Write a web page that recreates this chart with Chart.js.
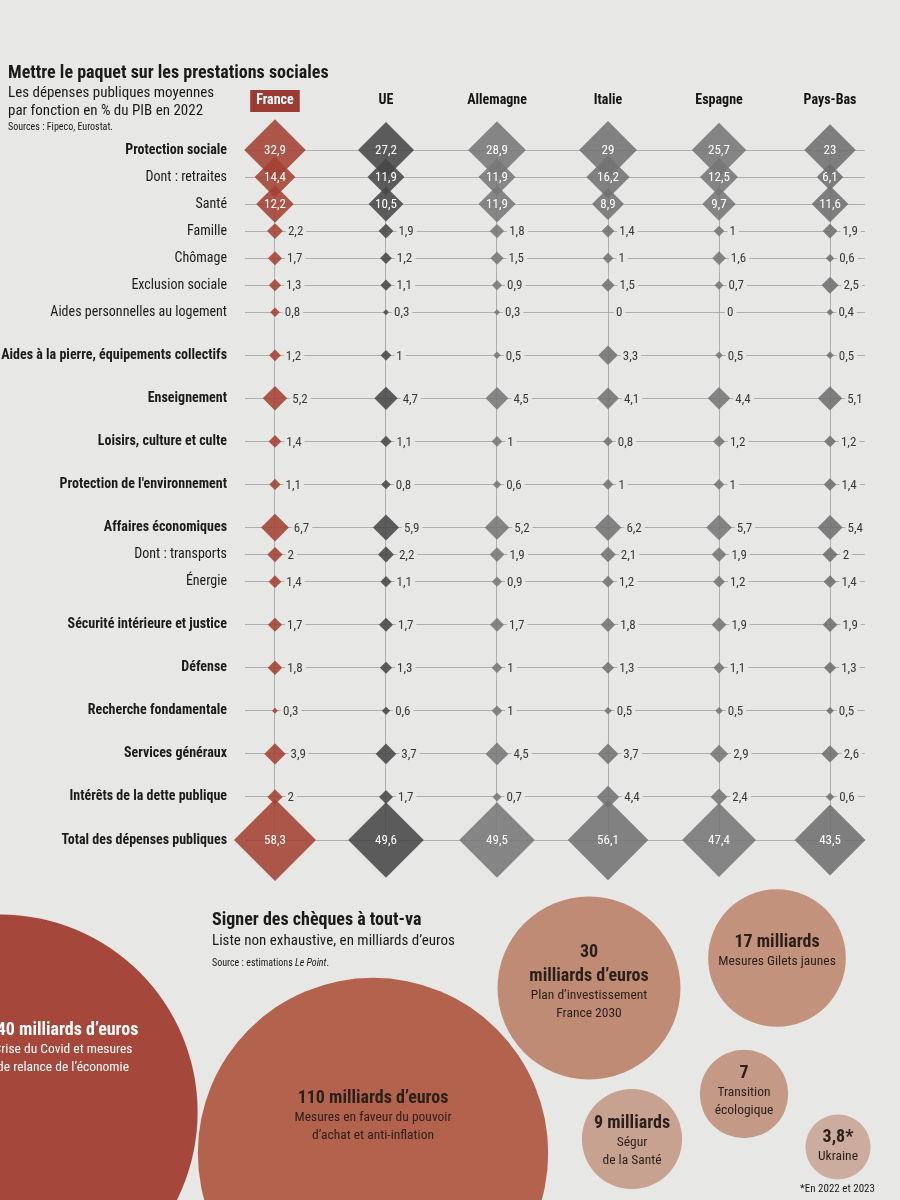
<!DOCTYPE html>
<html lang="fr">
<head>
<meta charset="utf-8">
<script src="https://cdn.jsdelivr.net/npm/chart.js@4.4.1/dist/chart.umd.min.js"></script>
<style>
  html, body { margin: 0; padding: 0; background: #e7e7e5; }
  #wrap { position: relative; width: 900px; height: 1200px; overflow: hidden; background: #e7e7e5;
          font-family: 'Liberation Sans Narrow', 'Roboto Condensed', Roboto, sans-serif; color: #1a1a1a; }
  canvas { position: absolute; left: 0; }
  #main { top: 0; }
  #cheques { top: 880px; }
  .txt { position: absolute; white-space: nowrap; z-index: 2; }
</style>
</head>
<body>
<div id="wrap">
  <canvas id="main" width="900" height="890"></canvas>
  <canvas id="cheques" width="900" height="320"></canvas>

  <div class="txt" style="left:8px;top:61px;font-size:18px;font-weight:700;">Mettre le paquet sur les prestations sociales</div>
  <div class="txt" style="left:8px;top:83px;font-size:15px;line-height:18px;">Les dépenses publiques moyennes<br>par fonction en % du PIB en 2022</div>
  <div class="txt" style="left:8px;top:121px;font-size:10px;">Sources : Fipeco, Eurostat.</div>

  <div class="txt" style="left:212px;top:908px;font-size:18px;font-weight:700;">Signer des chèques à tout-va</div>
  <div class="txt" style="left:212px;top:931px;font-size:15px;">Liste non exhaustive, en milliards d’euros</div>
  <div class="txt" style="left:212px;top:957px;font-size:10px;">Source : estimations <i>Le Point</i>.</div>
  <div class="txt" style="left:800px;top:1182px;font-size:11px;">*En 2022 et 2023</div>
</div>

<script>
// ---------- DATA: dépenses publiques (% du PIB, 2022) ----------
const countries = ["France", "UE", "Allemagne", "Italie", "Espagne", "Pays-Bas"];
const categories = [
  "Protection sociale", "Dont : retraites", "Santé", "Famille", "Chômage",
  "Exclusion sociale", "Aides personnelles au logement",
  "Aides à la pierre, équipements collectifs", "Enseignement",
  "Loisirs, culture et culte", "Protection de l'environnement",
  "Affaires économiques", "Dont : transports", "Énergie",
  "Sécurité intérieure et justice", "Défense", "Recherche fondamentale",
  "Services généraux", "Intérêts de la dette publique", "Total des dépenses publiques"
];
// sub-items (regular weight, tighter spacing)
const rowIsSub = [false, true, true, true, true, true, true, false, false, false,
                  false, false, true, true, false, false, false, false, false, false];

const franceValues    = [32.9, 14.4, 12.2, 2.2, 1.7, 1.3, 0.8, 1.2, 5.2, 1.4, 1.1, 6.7, 2.0, 1.4, 1.7, 1.8, 0.3, 3.9, 2.0, 58.3];
const ueValues        = [27.2, 11.9, 10.5, 1.9, 1.2, 1.1, 0.3, 1.0, 4.7, 1.1, 0.8, 5.9, 2.2, 1.1, 1.7, 1.3, 0.6, 3.7, 1.7, 49.6];
const allemagneValues = [28.9, 11.9, 11.9, 1.8, 1.5, 0.9, 0.3, 0.5, 4.5, 1.0, 0.6, 5.2, 1.9, 0.9, 1.7, 1.0, 1.0, 4.5, 0.7, 49.5];
const italieValues    = [29.0, 16.2, 8.9, 1.4, 1.0, 1.5, 0.0, 3.3, 4.1, 0.8, 1.0, 6.2, 2.1, 1.2, 1.8, 1.3, 0.5, 3.7, 4.4, 56.1];
const espagneValues   = [25.7, 12.5, 9.7, 1.0, 1.6, 0.7, 0.0, 0.5, 4.4, 1.2, 1.0, 5.7, 1.9, 1.2, 1.9, 1.1, 0.5, 2.9, 2.4, 47.4];
const paysBasValues   = [23.0, 6.1, 11.6, 1.9, 0.6, 2.5, 0.4, 0.5, 5.1, 1.2, 1.4, 5.4, 2.0, 1.4, 1.9, 1.3, 0.5, 2.6, 0.6, 43.5];
const seriesValues = [franceValues, ueValues, allemagneValues, italieValues, espagneValues, paysBasValues];

// ---------- DATA: chèques (milliards d'euros) ----------
const chequeValues = [140, 110, 30, 17, 9, 7, 3.8];
const chequeUnits  = [" milliards d’euros", " milliards d’euros", "\nmilliards d’euros", " milliards", " milliards", "", "*"];
const chequeLabels = [
  ["Crise du Covid et mesures", "de relance de l’économie"],
  ["Mesures en faveur du pouvoir", "d’achat et anti-inflation"],
  ["Plan d’investissement", "France 2030"],
  ["Mesures Gilets jaunes"],
  ["Ségur", "de la Santé"],
  ["Transition", "écologique"],
  ["Ukraine"]
];

// ---------- STYLE / LAYOUT ----------
const FONT = "'Liberation Sans Narrow', 'Roboto Condensed', Roboto, sans-serif";
const PAPER = "#e7e7e5";
const countryColors = ["rgba(164,66,52,0.88)", "rgba(72,72,72,0.88)", "rgba(120,120,120,0.88)",
                       "rgba(115,115,115,0.88)", "rgba(118,118,118,0.88)", "rgba(112,112,112,0.88)"];
const insideRows = [0, 1, 2, 19];
const DIAMOND_K = 5.37;          // half-diagonal (px) per sqrt(% du PIB) -> area proportional
const SUB_GAP = 27 / 43;         // spacing of sub-items relative to main rows

const bubbleCenters = [[0, 232], [373, 273], [589, 108], [777, 78], [632, 259], [744, 214], [838, 267]];
const bubbleColors = ["#a5473a", "#b3634d", "#bf8b75", "#c3927c", "#c8a290", "#c49986", "#cbac9e"];
const bubbleTextColors = ["#ffffff", "#2a1f1a", "#2a1f1a", "#2a1f1a", "#2a1f1a", "#2a1f1a", "#2a1f1a"];
const bubbleLabelOffsets = [[63, -63], [0, -36], [0, -5], [0, -6], [0, 3], [0, -2], [0, 0]];
const BUBBLE_K = 16.7;           // radius (px) per sqrt(milliards)

Chart.defaults.font.family = FONT;

const fmt = v => String(v).replace('.', ',');
const diamondR = v => DIAMOND_K * Math.sqrt(v);

// row positions along the (reversed) linear y axis
const rowPos = [];
categories.forEach((c, i) => {
  if (i === 0) rowPos.push(0);
  else rowPos.push(rowPos[i - 1] + (rowIsSub[i] ? SUB_GAP : 1));
});
const yMax = rowPos[rowPos.length - 1];

const valueLabelPlugin = {
  id: 'valueLabels',
  afterDatasetsDraw(chart) {
    const ctx = chart.ctx;
    ctx.save();
    chart.data.datasets.forEach((ds, di) => {
      const meta = chart.getDatasetMeta(di);
      const vals = seriesValues[di];
      meta.data.forEach((pt, i) => {
        const v = vals[i];
        const txt = fmt(v);
        if (insideRows.includes(i)) {
          ctx.font = `400 13px ${FONT}`;
          ctx.fillStyle = '#ffffff';
          ctx.textAlign = 'center';
          ctx.textBaseline = 'middle';
          ctx.fillText(txt, pt.x, pt.y + 1);
        } else {
          const r = diamondR(v);
          const x = pt.x + Math.max(r, 3) + 5;
          ctx.font = `400 13px ${FONT}`;
          const w = ctx.measureText(txt).width;
          ctx.fillStyle = PAPER;
          ctx.fillRect(x - 2, pt.y - 7, w + 5, 14);
          ctx.fillStyle = '#3a3a3a';
          ctx.textAlign = 'left';
          ctx.textBaseline = 'middle';
          ctx.fillText(txt, x, pt.y + 1);
        }
      });
    });
    ctx.restore();
  }
};

new Chart(document.getElementById('main'), {
  type: 'scatter',
  data: {
    datasets: countries.map((c, ci) => ({
      label: c,
      data: categories.map((cat, ri) => ({ x: ci, y: rowPos[ri] })),
      pointStyle: 'rectRot',
      pointRadius: ctx => diamondR(seriesValues[ci][ctx.dataIndex]),
      pointHoverRadius: ctx => diamondR(seriesValues[ci][ctx.dataIndex]),
      backgroundColor: countryColors[ci],
      borderWidth: 0,
      pointBorderWidth: 0,
      clip: false
    }))
  },
  options: {
    responsive: false,
    animation: false,
    events: [],
    devicePixelRatio: 1,
    layout: { autoPadding: false, padding: { top: 90, left: 0, right: 35, bottom: 50 } },
    plugins: { legend: { display: false }, tooltip: { enabled: false } },
    scales: {
      x: {
        type: 'linear', position: 'top', min: -0.27, max: 5.315,
        afterBuildTicks: s => { s.ticks = countries.map((c, i) => ({ value: i })); },
        afterFit: s => { s.height = 60; },
        ticks: {
          autoSkip: false, maxRotation: 0, padding: 41,
          font: { size: 14, weight: '700' },
          color: c => c.index === 0 ? '#ffffff' : '#141414',
          callback: (v, i) => countries[i],
          showLabelBackdrop: true,
          backdropColor: c => c.index === 0 ? '#9c3a34' : 'rgba(0,0,0,0)',
          backdropPadding: { left: 6, right: 6, top: 3, bottom: 3 }
        },
        grid: { color: '#a0a0a0', lineWidth: 0.8, drawTicks: false },
        border: { display: false }
      },
      y: {
        type: 'linear', reverse: true, min: 0, max: yMax,
        afterBuildTicks: s => { s.ticks = rowPos.map(v => ({ value: v })); },
        afterFit: s => { s.width = 245; },
        ticks: {
          autoSkip: false, padding: 18, color: '#1b1b1b',
          font: c => ({ size: 14, weight: rowIsSub[c.index] ? '400' : '700' }),
          callback: (v, i) => categories[i]
        },
        grid: { color: '#a0a0a0', lineWidth: 0.8, drawTicks: false },
        border: { display: false }
      }
    }
  },
  plugins: [valueLabelPlugin]
});

// ---------- bubbles ----------
const bubbleTextPlugin = {
  id: 'bubbleText',
  afterDatasetsDraw(chart) {
    const ctx = chart.ctx;
    const meta = chart.getDatasetMeta(0);
    ctx.save();
    ctx.textAlign = 'center';
    ctx.textBaseline = 'middle';
    meta.data.forEach((pt, i) => {
      const heads = (fmt(chequeValues[i]) + chequeUnits[i]).split('\n');
      const subs = chequeLabels[i];
      const lines = [];
      heads.forEach((h, k) => lines.push({ t: h, f: `700 18px ${FONT}`, adv: k === 0 ? 0 : 24 }));
      subs.forEach((s, k) => lines.push({ t: s, f: `400 13.5px ${FONT}`, adv: k === 0 ? 20 : 18 }));
      const total = lines.reduce((a, l) => a + l.adv, 0);
      let y = pt.y + bubbleLabelOffsets[i][1] - total / 2;
      const x = pt.x + bubbleLabelOffsets[i][0];
      ctx.fillStyle = bubbleTextColors[i];
      lines.forEach(l => {
        y += l.adv;
        ctx.font = l.f;
        ctx.fillText(l.t, x, y);
      });
    });
    ctx.restore();
  }
};

new Chart(document.getElementById('cheques'), {
  type: 'bubble',
  data: {
    datasets: [{
      data: bubbleCenters.map(([x, y]) => ({ x, y })),
      radius: ctx => BUBBLE_K * Math.sqrt(chequeValues[ctx.dataIndex]),
      hoverRadius: 0,
      backgroundColor: bubbleColors,
      borderWidth: 0,
      clip: false
    }]
  },
  options: {
    responsive: false,
    animation: false,
    events: [],
    devicePixelRatio: 1,
    layout: { autoPadding: false, padding: 0 },
    plugins: { legend: { display: false }, tooltip: { enabled: false } },
    scales: {
      x: { type: 'linear', min: 0, max: 900, display: false },
      y: { type: 'linear', min: 0, max: 320, reverse: true, display: false }
    }
  },
  plugins: [bubbleTextPlugin]
});
</script>
</body>
</html>
